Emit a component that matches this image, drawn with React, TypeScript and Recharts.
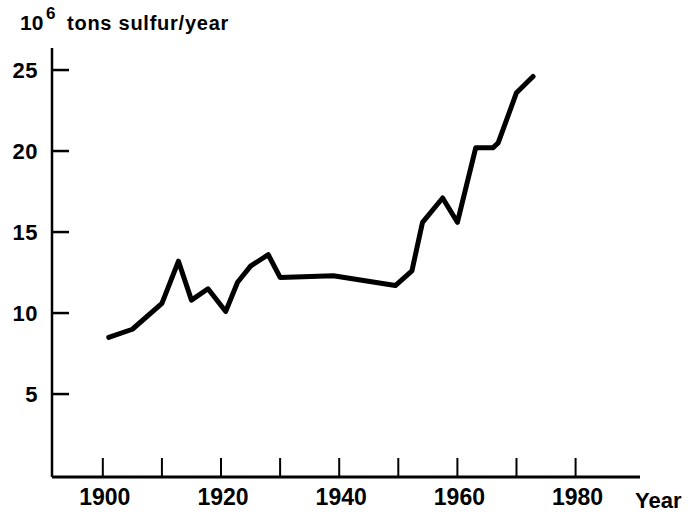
import React from 'react';
import { LineChart, Line, XAxis, YAxis } from 'recharts';

const years = [1901, 1905, 1910, 1912.8, 1915, 1917.8, 1920.8, 1922.8, 1925, 1928, 1930, 1939, 1946, 1949.5, 1952.3, 1954.1, 1957.5, 1960, 1963.1, 1966, 1966.9, 1970, 1972.8];
const sulfur = [8.5, 9.0, 10.6, 13.2, 10.8, 11.5, 10.1, 11.9, 12.9, 13.6, 12.2, 12.3, 11.9, 11.7, 12.6, 15.6, 17.1, 15.6, 20.2, 20.2, 20.5, 23.6, 24.6];
const xTicks = [1900, 1910, 1920, 1930, 1940, 1950, 1960, 1970, 1980];
const xLabelYears = [1900, 1920, 1940, 1960, 1980];
const yTicks = [5, 10, 15, 20, 25];

const data = years.map((y, i) => ({ year: y, value: sulfur[i] }));

const FONT = '"Liberation Sans", Arial, sans-serif';

const XTick = (props: any) => {
  const { x, y, payload } = props;
  const show = xLabelYears.includes(payload.value);
  return (
    <g>
      <line x1={x} y1={y} x2={x} y2={y - 19} stroke="#000" strokeWidth={2} />
      {show && (
        <text x={x + 2} y={y + 28} textAnchor="middle" fontFamily={FONT} fontSize={23} fontWeight="bold" fill="#000">
          {payload.value}
        </text>
      )}
    </g>
  );
};

const YTick = (props: any) => {
  const { x, y, payload } = props;
  return (
    <g>
      <line x1={x} y1={y} x2={x + 17} y2={y} stroke="#000" strokeWidth={2.5} />
      <text x={x - 14} y={y + 8} textAnchor="end" fontFamily={FONT} fontSize={22} fontWeight="bold" letterSpacing={0.5} fill="#000">
        {payload.value}
      </text>
    </g>
  );
};

export default function App() {
  return (
    <div style={{ position: 'absolute', left: 0, top: 0, width: 689, height: 515, background: '#fff' }}>
      <LineChart width={689} height={515} data={data} margin={{ top: 48, right: 49, left: 0, bottom: 0 }}>
        <XAxis
          dataKey="year"
          type="number"
          domain={[1891.4, 1990.9]}
          ticks={xTicks}
          allowDataOverflow
          tickSize={0}
          tickMargin={0}
          tickLine={false}
          height={38}
          axisLine={{ stroke: '#000', strokeWidth: 3 }}
          tick={<XTick />}
          interval={0}
        />
        <YAxis
          type="number"
          domain={[-0.12, 26.36]}
          ticks={yTicks}
          allowDataOverflow
          width={52}
          tickSize={0}
          tickMargin={0}
          tickLine={false}
          axisLine={{ stroke: '#000', strokeWidth: 2.5 }}
          tick={<YTick />}
          interval={0}
        />
        <Line
          type="linear"
          dataKey="value"
          stroke="#000"
          strokeWidth={5}
          strokeLinejoin="round"
          strokeLinecap="round"
          dot={false}
          isAnimationActive={false}
        />
      </LineChart>
      <svg width={689} height={515} style={{ position: 'absolute', left: 0, top: 0, pointerEvents: 'none' }}>
        <text x={20} y={30} fontFamily={FONT} fontSize={21} fontWeight="bold" fill="#000">10</text>
        <text x={46} y={19} fontFamily={FONT} fontSize={17} fontWeight="bold" fill="#000">6</text>
        <text x={67} y={30} fontFamily={FONT} fontSize={20} fontWeight="bold" letterSpacing={0.75} fill="#000">tons sulfur/year</text>
        <text x={635} y={508} fontFamily={FONT} fontSize={22} fontWeight="bold" fill="#000">Year</text>
      </svg>
    </div>
  );
}
